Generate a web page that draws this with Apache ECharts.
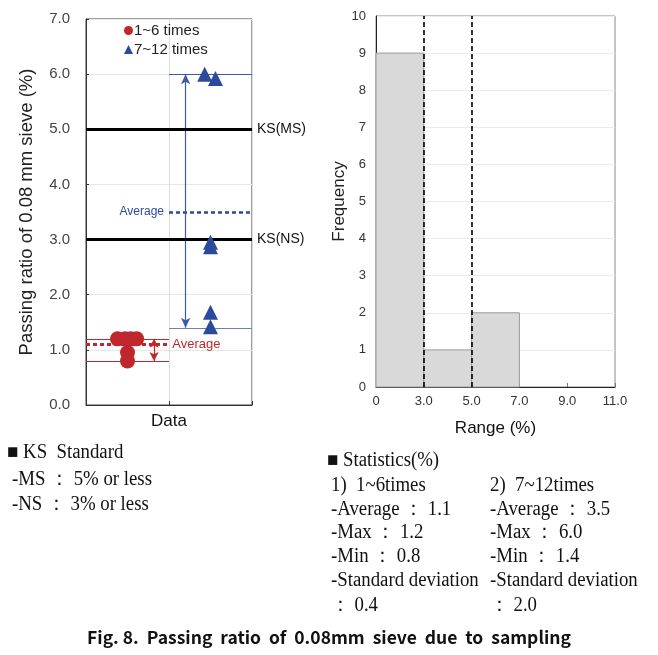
<!DOCTYPE html>
<html><head><meta charset="utf-8">
<script src="https://cdn.jsdelivr.net/npm/echarts@6/dist/echarts.min.js"></script>
<style>html,body{margin:0;padding:0;background:#fff}#c{width:658px;height:655px}</style>
</head><body><div id="c"></div>
<script>
// ---- data ----
const groupNames = ['1~6 times', '7~12 times'];
const group1Values = [1.2, 1.2, 1.2, 1.2, 0.95, 0.8];
const group1Jitter = [0.38, 0.47, 0.54, 0.61, 0.5, 0.5];
const group2Values = [6.0, 5.92, 2.95, 2.87, 1.68, 1.42];
const group2Jitter = [1.43, 1.56, 1.5, 1.5, 1.5, 1.5];
const statsAverage = [1.1, 3.5];
const statsMax = [1.2, 6.0];
const statsMin = [0.8, 1.4];
const statsStd = [0.4, 2.0];
const ksLimits = [5.0, 3.0];
const ksLabels = ['KS(MS)', 'KS(NS)'];
const leftXLabels = ['', 'Data', ''];
const binLabels = ['0', '3.0', '5.0', '7.0', '9.0', '11.0'];
const frequencies = [9, 1, 2, 0, 0];
const ksRangeEdges = ['3.0', '5.0'];

const RED = '#c0272d', BLUE = '#2c4a9c';
const chart = echarts.init(document.getElementById('c'), null, {renderer: 'canvas'});

function hLine(y, x0, x1, color, width, type, label, pos) {
  return [{coord: [x0, y], lineStyle: {color: color, width: width, type: type},
           label: label ? {show: true, formatter: label, position: pos, distance: 5} : {show: false}},
          {coord: [x1, y]}];
}

const redMark = {
  silent: true, symbol: 'none', animation: false,
  label: {color: RED, fontSize: 13, fontFamily: 'Liberation Sans'},
  data: [
    hLine(statsMax[0], 0, 1, RED, 1.2, 'solid'),
    hLine(statsMin[0], 0, 1, RED, 1.2, 'solid'),
    hLine(statsAverage[0], 0, 0.98, RED, 3, [4, 3], 'Average', 'end')
  ]
};
const redArrow = {
  silent: true, symbol: ['arrow', 'arrow'], symbolSize: [7, 9], animation: false,
  label: {show: false},
  lineStyle: {color: RED, width: 1.2, type: 'solid'},
  data: [[{coord: [0.82, statsMax[0]]}, {coord: [0.82, statsMin[0]]}]]
};
const blueMark = {
  silent: true, symbol: 'none', animation: false,
  label: {color: BLUE, fontSize: 12, fontFamily: 'Liberation Sans Narrow, Liberation Sans'},
  data: [
    hLine(statsMax[1], 1, 2, '#3d5aa6', 1.2, 'solid'),
    hLine(statsMin[1], 1, 2, '#6d80b4', 1.2, 'solid'),
    hLine(statsAverage[1], 1, 2, BLUE, 2.5, [4, 3], 'Average', 'start')
  ]
};

const bins = frequencies.map((f, i) => [i, i + 1, f]);

chart.setOption({
  animation: false,
  textStyle: {fontFamily: 'Liberation Sans, Arial, sans-serif'},
  grid: [
    {left: 86, top: 19, width: 166, height: 386, show: true, borderColor: '#444', borderWidth: 1, backgroundColor: 'transparent'},
    {left: 376, top: 16, width: 239, height: 371, show: true, borderColor: '#8a8a8a', borderWidth: 1, backgroundColor: 'transparent'}
  ],
  legend: {
    orient: 'vertical', left: 124, top: 23, itemGap: 4, itemWidth: 9, itemHeight: 9, padding: 0,
    textStyle: {fontSize: 15, color: '#222', padding: [0, 0, 0, -4]},
    data: [{name: groupNames[0], icon: 'circle'}, {name: groupNames[1], icon: 'triangle'}]
  },
  xAxis: [
    {gridIndex: 0, type: 'value', min: 0, max: 2, interval: 1,
     axisLine: {show: true, lineStyle: {color: '#333'}},
     axisTick: {show: true, inside: true, length: 4, lineStyle: {color: '#333'}},
     axisLabel: {fontSize: 17, color: '#111', margin: 8, formatter: v => leftXLabels[Math.round(v)] || ''},
     splitLine: {show: true, lineStyle: {color: '#dcdcdc'}}},
    {gridIndex: 1, type: 'value', min: 0, max: 5, interval: 1,
     axisLine: {show: true, lineStyle: {color: '#222'}},
     axisTick: {show: true, inside: true, length: 4, lineStyle: {color: '#777'}},
     axisLabel: {fontSize: 13, color: '#333', margin: 8, formatter: v => binLabels[Math.round(v)]},
     splitLine: {show: false},
     name: 'Range (%)', nameLocation: 'middle', nameGap: 33,
     nameTextStyle: {fontSize: 17, color: '#111'}}
  ],
  yAxis: [
    {gridIndex: 0, type: 'value', min: 0, max: 7, interval: 1,
     axisLine: {show: true, lineStyle: {color: '#333'}},
     axisTick: {show: true, inside: true, length: 3, lineStyle: {color: '#333'}},
     axisLabel: {fontSize: 15, color: '#444', margin: 16, formatter: v => v.toFixed(1)},
     splitLine: {show: true, lineStyle: {color: '#e6e6e6'}},
     name: 'Passing ratio of 0.08 mm sieve (%)', nameLocation: 'middle', nameGap: 50,
     nameTextStyle: {fontSize: 18.5, color: '#222'}},
    {gridIndex: 1, type: 'value', min: 0, max: 10, interval: 1,
     axisLine: {show: true, lineStyle: {color: '#222'}},
     axisTick: {show: false},
     axisLabel: {fontSize: 13, color: '#333', margin: 10},
     splitLine: {show: true, lineStyle: {color: '#ececec'}},
     name: 'Frequency', nameLocation: 'middle', nameGap: 28,
     nameTextStyle: {fontSize: 17, color: '#222'}}
  ],
  series: [
    {name: groupNames[0], type: 'scatter', xAxisIndex: 0, yAxisIndex: 0, symbol: 'circle', symbolSize: 15,
     itemStyle: {color: RED, opacity: 1}, z: 5,
     data: group1Values.map((v, i) => [group1Jitter[i], v]), markLine: redMark},
    {name: groupNames[0] + ' range', type: 'scatter', xAxisIndex: 0, yAxisIndex: 0, data: [], markLine: redArrow},
    {name: groupNames[1], type: 'scatter', xAxisIndex: 0, yAxisIndex: 0, symbol: 'triangle', symbolSize: 15,
     itemStyle: {color: BLUE, opacity: 1}, z: 5,
     data: group2Values.map((v, i) => [group2Jitter[i], v]), markLine: blueMark},
    {name: groupNames[1] + ' range', type: 'scatter', xAxisIndex: 0, yAxisIndex: 0, data: [],
     markLine: {silent: true, symbol: ['arrow', 'arrow'], symbolSize: [7, 10], animation: false, label: {show: false},
       lineStyle: {color: '#3d5aa6', width: 1.2, type: 'solid'},
       data: [[{coord: [1.2, statsMax[1]]}, {coord: [1.2, statsMin[1]]}]]}},
    {name: 'KS', type: 'scatter', xAxisIndex: 0, yAxisIndex: 0, data: [],
     markLine: {silent: true, symbol: 'none', animation: false,
       label: {show: true, position: 'end', distance: 5, fontSize: 14, color: '#111'},
       lineStyle: {color: '#000', width: 3, type: 'solid'},
       data: ksLimits.map((v, i) => [{coord: [0, v], label: {formatter: ksLabels[i]}}, {coord: [2, v]}])}},
    {name: 'hist', type: 'custom', xAxisIndex: 1, yAxisIndex: 1, data: bins,
     renderItem: function (params, api) {
       const f = api.value(2);
       if (!f) return null;
       const p0 = api.coord([api.value(0), f]);
       const p1 = api.coord([api.value(1), 0]);
       return {type: 'rect', shape: {x: p0[0], y: p0[1], width: p1[0] - p0[0], height: p1[1] - p0[1]},
               style: {fill: '#d9d9d9', stroke: '#9a9a9a', lineWidth: 1}};
     },
     markLine: {silent: true, symbol: 'none', animation: false, label: {show: false},
       lineStyle: {color: '#000', width: 1.6, type: [5, 3]},
       data: ksRangeEdges.map(e => ({xAxis: binLabels.indexOf(e)}))}, z: 3}
  ],
  graphic: (function () {
    const serif = {fontFamily: 'Liberation Serif, serif', fontSize: 20, fill: '#111', verticalAlign: 'middle'};
    const t = (x, y, text, extra) => ({type: 'text', x: x, y: y, scaleX: 0.94, silent: true, style: Object.assign({text: text}, serif, extra || {})});
    const C = ' \uFF1A ';
    const els = [
      t(7, 453, '\u25A0 KS  Standard'),
      t(12, 480, '-MS' + C + '5% or less'),
      t(12, 505, '-NS' + C + '3% or less'),
      t(327, 461, '\u25A0 Statistics(%)'),
      t(331, 486, '1)  1~6times'),
      t(490, 486, '2)  7~12times')
    ];
    [0, 1].forEach(g => {
      const x = g === 0 ? 331 : 490;
      els.push(t(x, 510, '-Average' + C + statsAverage[g].toFixed(1)));
      els.push(t(x, 533, '-Max' + C + statsMax[g].toFixed(1)));
      els.push(t(x, 557, '-Min' + C + statsMin[g].toFixed(1)));
      els.push(t(x, 581, '-Standard deviation'));
      els.push(t(x, 606, '\uFF1A ' + statsStd[g].toFixed(1)));
    });
    els.push({type: 'text', x: 329, y: 637, silent: true,
      style: {text: 'Fig. 8.  Passing  ratio  of  0.08mm  sieve  due  to  sampling', fontFamily: 'Noto Sans CJK KR, Noto Sans',
              fontWeight: 'bold', fontSize: 17.5, fill: '#111', align: 'center', verticalAlign: 'middle'}});
    return els;
  })()
});
</script></body></html>
